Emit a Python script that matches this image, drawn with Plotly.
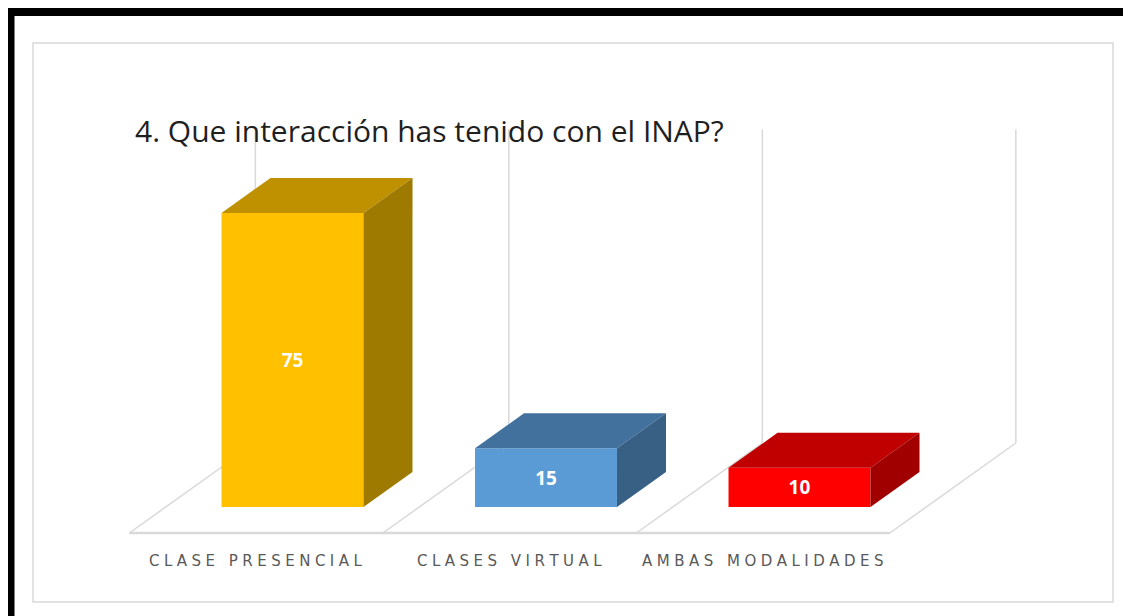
import plotly.graph_objects as go

# dados do gráfico
categorias = ["CLASE PRESENCIAL", "CLASES VIRTUAL", "AMBAS MODALIDADES"]
valores = [75, 15, 10]
titulo = "4. Que interacción has tenido con el INAP?"
eixo_max = 80

# cores: frente, topo e lado de cada barra (efeito 3D do Excel)
cor_frente = ["#FFC000", "#5B9BD5", "#FF0000"]
cor_topo = ["#BF9000", "#41719C", "#C00000"]
cor_lado = ["#9E7B00", "#385F84", "#A00000"]

# a página tem 8px de margem no body: medidas em pixels da janela menos 8
OFF = 8
W, H = 1131 - OFF, 616 - OFF
px_cat = 253.5          # pixels por categoria
px_val = 3.92           # pixels por unidade de valor
x_px0 = 292.5 - OFF     # centro da primeira barra
y_px0 = 507 - OFF       # base das barras (a partir do topo)

# projeção oblíqua: 1 pixel de profundidade = 1 px para cima e 1.4 px para a direita
dx = 1.4 / px_cat
dy = 1.0 / px_val
prof_barra = 35
prof_frente = -26
prof_fundo = 64
largura = 0.56

xs = list(range(len(categorias)))
meia = largura / 2

fig = go.Figure()

# face frontal das barras
fig.add_trace(go.Bar(
    x=xs, y=valores, width=largura,
    marker=dict(color=cor_frente, line=dict(width=0)),
    texttemplate="<b>%{y}</b>", textposition="inside",
    insidetextanchor="middle", textangle=0,
    textfont=dict(color="white", size=19, family="Open Sans"),
    hoverinfo="skip", showlegend=False,
))

# topo e lateral de cada barra
for x, v, ct, cl in zip(xs, valores, cor_topo, cor_lado):
    ox, oy = prof_barra * dx, prof_barra * dy
    fig.add_trace(go.Scatter(
        x=[x - meia, x + meia, x + meia + ox, x - meia + ox, x - meia],
        y=[v, v, v + oy, v + oy, v],
        fill="toself", fillcolor=ct, mode="lines", line=dict(width=0),
        hoverinfo="skip", showlegend=False,
    ))
    fig.add_trace(go.Scatter(
        x=[x + meia, x + meia, x + meia + ox, x + meia + ox, x + meia],
        y=[0, v, v + oy, oy, 0],
        fill="toself", fillcolor=cl, mode="lines", line=dict(width=0),
        hoverinfo="skip", showlegend=False,
    ))

# chão e parede do fundo
cinza = "#D9D9D9"
limites = [x - 0.5 for x in xs] + [xs[-1] + 0.5]
shapes = []
shapes.append(dict(type="line", xref="x", yref="y", layer="below",
                   x0=limites[0] + prof_frente * dx, x1=limites[-1] + prof_frente * dx,
                   y0=prof_frente * dy, y1=prof_frente * dy,
                   line=dict(color=cinza, width=2.5)))
for b in limites:
    shapes.append(dict(type="line", xref="x", yref="y", layer="below",
                       x0=b + prof_frente * dx, x1=b + prof_fundo * dx,
                       y0=prof_frente * dy, y1=prof_fundo * dy,
                       line=dict(color=cinza, width=1.5)))
    shapes.append(dict(type="line", xref="x", yref="y", layer="below",
                       x0=b + prof_fundo * dx, x1=b + prof_fundo * dx,
                       y0=prof_fundo * dy, y1=eixo_max + prof_fundo * dy,
                       line=dict(color=cinza, width=1.5)))

# molduras
shapes.append(dict(type="rect", xref="paper", yref="paper", layer="below",
                   x0=(33 - OFF) / W, x1=(1113 - OFF) / W,
                   y0=1 - (602 - OFF) / H, y1=1 - (43 - OFF) / H,
                   line=dict(color=cinza, width=1.5)))
shapes.append(dict(type="rect", xref="paper", yref="paper", layer="above",
                   x0=(10.5 - OFF) / W, x1=(1128 - OFF) / W,
                   y0=-0.05, y1=1 - (12 - OFF) / H,
                   line=dict(color="black", width=8)))

# rótulos das categorias (com espaçamento entre letras)
anotacoes = []
for x, c in zip(xs, categorias):
    anotacoes.append(dict(
        x=x + prof_frente * dx, y=prof_frente * dy, xref="x", yref="y",
        text="\u2009\u200a".join(c), showarrow=False, yanchor="middle", yshift=-28,
        font=dict(family="DejaVu Sans", size=15, color="#595959"),
    ))
anotacoes.append(dict(
    x=(133 - OFF) / W, y=1 - (131 - OFF) / H, xref="paper", yref="paper",
    xanchor="left", yanchor="middle", text=titulo, showarrow=False,
    font=dict(family="Open Sans", size=30, color="#1F1F1F"),
))

fig.update_layout(
    width=W, height=H, autosize=False,
    margin=dict(l=0, r=0, t=0, b=0),
    paper_bgcolor="white", plot_bgcolor="white",
    xaxis=dict(visible=False, range=[-x_px0 / px_cat, (W - x_px0) / px_cat], fixedrange=True),
    yaxis=dict(visible=False, range=[-(H - y_px0) / px_val, y_px0 / px_val], fixedrange=True),
    shapes=shapes, annotations=anotacoes, showlegend=False,
)

fig.write_html("out.html")
